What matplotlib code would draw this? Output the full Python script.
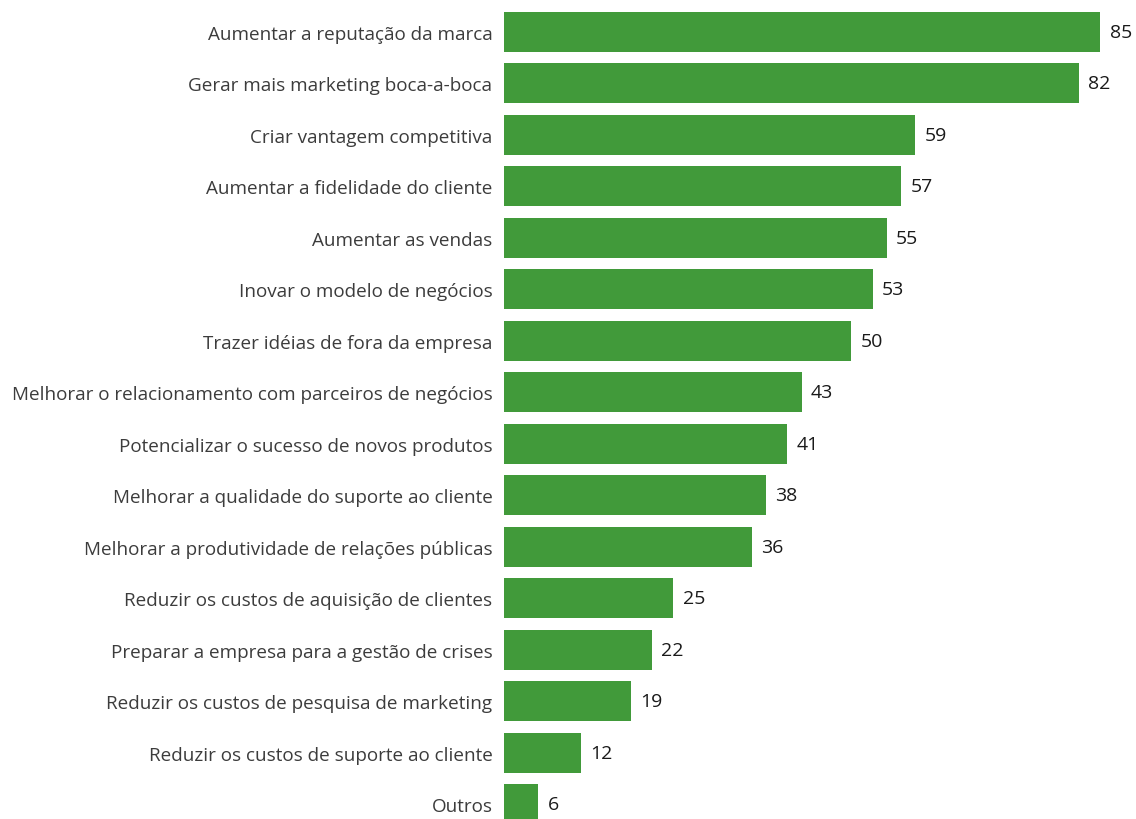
import matplotlib.pyplot as plt

# Motivos citados (%) para investir em comunidades de marca
categorias = [
    "Aumentar a reputação da marca",
    "Gerar mais marketing boca-a-boca",
    "Criar vantagem competitiva",
    "Aumentar a fidelidade do cliente",
    "Aumentar as vendas",
    "Inovar o modelo de negócios",
    "Trazer idéias de fora da empresa",
    "Melhorar o relacionamento com parceiros de negócios",
    "Potencializar o sucesso de novos produtos",
    "Melhorar a qualidade do suporte ao cliente",
    "Melhorar a produtividade de relações públicas",
    "Reduzir os custos de aquisição de clientes",
    "Preparar a empresa para a gestão de crises",
    "Reduzir os custos de pesquisa de marketing",
    "Reduzir os custos de suporte ao cliente",
    "Outros",
]
valores = [85, 82, 59, 57, 55, 53, 50, 43, 41, 38, 36, 25, 22, 19, 12, 6]

plt.rcParams['font.family'] = ['Open Sans', 'DejaVu Sans']

fig = plt.figure(figsize=(11.36, 8.2), dpi=100)
ax = fig.add_axes([503.5 / 1136, 0, 1 - 503.5 / 1136, 1])

pos = list(range(len(valores)))
ax.barh(pos, valores, height=0.777, color='#419a3a')

for y, v in zip(pos, valores):
    ax.text(v + 1.3, y, str(v), va='center', ha='left',
            fontsize=14, color='#1a1a1a')

ax.set_xlim(1.12, 90)
ax.set_ylim(15.287, -0.635)
ax.set_yticks(pos)
ax.set_yticklabels(categorias, fontsize=13.6, color='#3c3c3c')
ax.tick_params(axis='y', length=0, pad=8)
ax.set_xticks([])
for s in ax.spines.values():
    s.set_visible(False)

fig.savefig('out.png', dpi=100)
